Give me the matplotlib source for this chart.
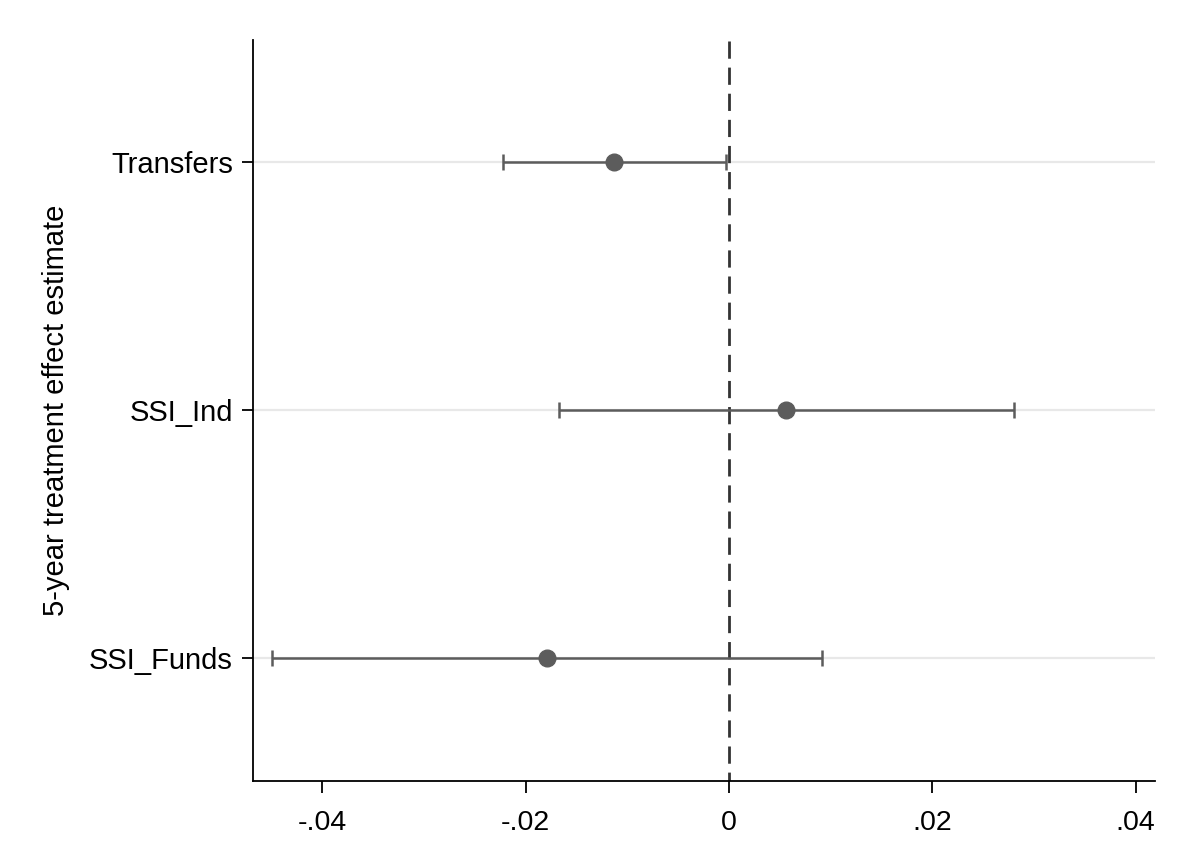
import matplotlib
matplotlib.use("Agg")
import matplotlib.pyplot as plt

categories = ["Transfers", "SSI_Ind", "SSI_Funds"]
estimates = [-0.0113, 0.0056, -0.0179]
ci_low = [-0.0222, -0.0167, -0.0449]
ci_high = [-0.0003, 0.0280, 0.0092]
xticks = [-0.04, -0.02, 0, 0.02, 0.04]
xticklabels = ["-.04", "-.02", "0", ".02", ".04"]

plt.rcParams['font.family'] = ['Liberation Sans', 'DejaVu Sans']

fig = plt.figure(figsize=(11.84, 8.67), dpi=100)
ax = fig.add_axes([253/1184, 1-781/867, (1155-253)/1184, (781-40)/867])

ypos = list(range(len(categories), 0, -1))
col = "#5c5c5c"

for y in ypos:
    ax.axhline(y, color="#e8e8e8", lw=1.6, zorder=0)

ax.axvline(0, color="#333333", lw=2.0, ls=(3, (6.2, 3.2)), zorder=1)

xerr = [[e - l for e, l in zip(estimates, ci_low)], [h - e for e, h in zip(estimates, ci_high)]]
ax.errorbar(estimates, ypos, xerr=xerr, fmt='o', color=col, ecolor=col,
            elinewidth=1.8, capsize=5.5, capthick=1.8, markersize=12, zorder=3)

ax.set_xlim(-0.0468, 0.0419)
ax.set_ylim(0.503, 3.493)
ax.set_xticks(xticks)
ax.set_xticklabels(xticklabels)
ax.set_yticks(ypos)
ax.set_yticklabels(categories)
ax.tick_params(axis='x', length=8.6, width=1.3, pad=12, labelsize=20.5, colors='black')
ax.tick_params(axis='y', length=8, width=1.3, pad=6.5, labelsize=21, colors='black')
for s in ["top", "right"]:
    ax.spines[s].set_visible(False)
for s in ["left", "bottom"]:
    ax.spines[s].set_linewidth(1.3)
ax.set_ylabel("5-year treatment effect estimate", fontsize=21, labelpad=14)

fig.savefig("out.png", dpi=100)
